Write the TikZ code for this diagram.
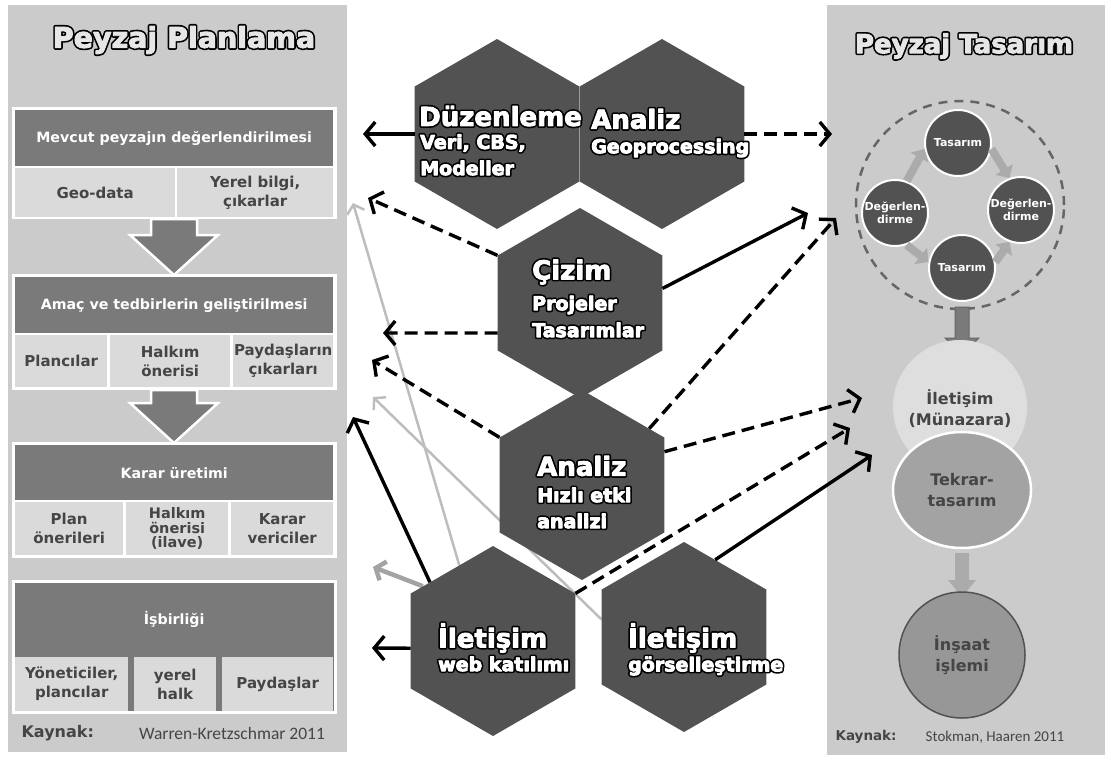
\documentclass[tikz,border=0pt]{standalone}
\usepackage{fontspec}
\setmainfont{DejaVu Sans}
\newfontfamily\calfont{Carlito}
\usetikzlibrary{shapes.geometric, arrows.meta, calc, backgrounds}

\definecolor{panelgray}{HTML}{CBCBCB}
\definecolor{headgray}{HTML}{7A7A7A}
\definecolor{cellgray}{HTML}{DADADA}
\definecolor{hexgray}{HTML}{525252}
\definecolor{textgray}{HTML}{454545}
\definecolor{lightline}{HTML}{BDBDBD}
\definecolor{midline}{HTML}{A3A3A3}
\definecolor{titlefill}{HTML}{E6E6E6}
\definecolor{ringgray}{HTML}{666666}
\definecolor{cycgray}{HTML}{ABABAB}
\definecolor{buildgray}{HTML}{979797}

\newcommand{\strokedtext}[1]{\special{pdf:literal direct 2 Tr 4.2 w 1 j 0 G 0 g}#1\special{pdf:literal direct 0 Tr}}
\newcommand{\heavytext}[1]{\special{pdf:literal direct 2 Tr 0.9 w 1 j}#1\special{pdf:literal direct 0 Tr}}
\newcommand{\halotext}[4][]{%
  \node[halo, #1, text=black] at (#3) {\strokedtext{#4}};
  \node[halo, #1] (#2) at (#3) {\heavytext{#4}};
}

\begin{document}
\begin{tikzpicture}
  [x=1pt, y=-1pt,
  halo/.style={inner sep=0pt, anchor=west},
  big/.style={font=\fontsize{26}{28}\selectfont\bfseries, text=white},
  small/.style={font=\fontsize{19}{21}\selectfont\bfseries, text=white},
  title/.style={font=\fontsize{28.5}{30}\selectfont\bfseries, text=titlefill, anchor=center},
  hexa/.style={regular polygon, regular polygon sides=6, shape border rotate=30,
  minimum size=190pt, inner sep=0pt, fill=hexgray},
  headbox/.style={anchor=north west, fill=headgray, minimum width=318pt, inner sep=0pt,
  text=white, font=\fontsize{14.2}{17}\selectfont\bfseries},
  cellbox/.style={anchor=north west, fill=cellgray, minimum height=49pt, inner sep=0pt,
  text=textgray, align=center, font=\fontsize{15}{19}\selectfont\bfseries},
  blockarrow/.style={fill=headgray, draw=white, line width=2.5pt},
  cyclenode/.style={circle, fill=hexgray, draw=white, line width=2pt, minimum size=66pt,
  inner sep=0pt, text=white, align=center, font=\fontsize{11}{13.5}\selectfont\bfseries},
  cyc/.style={draw=cycgray, line width=8pt, -{Triangle[length=10pt,width=20pt]}},
  roundbox/.style={inner sep=0pt, text=textgray, align=center,
  font=\fontsize{16}{21}\selectfont\bfseries},
  solidar/.style={draw=black, line width=3.4pt, -{Straight Barb[length=10pt,width=24pt]}},
  dasharr/.style={solidar, dash pattern=on 13pt off 7pt},
  greyar/.style={draw=lightline, line width=2.5pt, -{Straight Barb[length=8pt,width=18pt]}},
  midar/.style={draw=midline, line width=4.5pt, -{Straight Barb[length=8pt,width=20pt]}}]

  \useasboundingbox (0,0) rectangle (1110,760);

  % Peyzaj Planlama
  \fill[panelgray] (8,5) rectangle (347,752);
  \halotext[title]{plantitle}{184,40}{Peyzaj Planlama}

  \fill[white] (12,107) rectangle (337,219);
  \node[headbox, minimum height=56pt] (mevcut) at (15,110) {Mevcut peyzajın değerlendirilmesi};
  \node[cellbox, minimum width=160pt] (geo) at (15,168) {Geo-data};
  \node[cellbox, minimum width=156pt] (yerel) at (177,168) {Yerel bilgi,\\çıkarlar};
  \path[blockarrow] (151,219) -- (197,219) -- (197,235) -- (218,235) -- (174,275)
    -- (130,235) -- (151,235) -- cycle;

  \fill[white] (12,274) rectangle (337,390);
  \node[headbox, minimum height=56pt] (amac) at (15,277) {Amaç ve tedbirlerin geliştirilmesi};
  \node[cellbox, minimum width=92pt, minimum height=52pt] (plancilar) at (15,335) {Plancılar};
  \node[cellbox, minimum width=120pt, minimum height=52pt] (halkim) at (110,335) {Halkım\\önerisi};
  \node[cellbox, minimum width=100pt, minimum height=52pt] (paydas) at (233,335) {Paydaşların\\çıkarları};
  \path[blockarrow] (151,390) -- (197,390) -- (197,403) -- (218,403) -- (174,443)
    -- (130,403) -- (151,403) -- cycle;

  \fill[white] (12,442) rectangle (337,558);
  \node[headbox, minimum height=55pt] (karar) at (15,445) {Karar üretimi};
  \node[cellbox, minimum width=108pt, minimum height=53pt] (plan) at (15,502) {Plan\\önerileri};
  \node[cellbox, minimum width=102pt, minimum height=53pt,
    font=\fontsize{14.5}{14.5}\selectfont\bfseries] (ilave) at (126,502) {Halkım\\önerisi\\(ilave)};
  \node[cellbox, minimum width=102pt, minimum height=53pt] (verici) at (231,502) {Karar\\vericiler};

  \filldraw[fill=headgray, draw=white, line width=3pt] (13.5,581.5) rectangle (335.5,712.5);
  \node[headbox, minimum height=72pt] (isbirligi) at (15,583) {İşbirliği};
  \node[cellbox, minimum width=113pt, minimum height=54pt] (yonetici) at (15,657) {Yöneticiler,\\plancılar};
  \node[cellbox, minimum width=82pt, minimum height=54pt] (halk) at (134,657) {yerel\\halk};
  \node[cellbox, minimum width=111pt, minimum height=54pt] (paydaslar) at (222,657) {Paydaşlar};

  \node[anchor=west, text=textgray, font=\fontsize{16}{18}\selectfont\bfseries] (kaynak1) at (18,733) {Kaynak:};
  \node[text=textgray, font=\calfont\fontsize{17.5}{20}\selectfont] (ref1) at (232,733) {Warren-Kretzschmar 2011};

  % Peyzaj Tasarim
  \fill[panelgray] (827,5) rectangle (1105,755);
  \halotext[title, font=\fontsize{26}{28}\selectfont\bfseries]{tasarimtitle}{964,46}{Peyzaj Tasarım}

  \node[circle, draw=ringgray, line width=2.5pt, dash pattern=on 9pt off 7pt,
    minimum size=208pt, inner sep=0pt] (ring) at (960,205) {};
  \node[cyclenode] (tp) at (958,143) {Tasarım};
  \node[cyclenode] (rt) at (1021,210) {Değerlen-\\dirme};
  \node[cyclenode] (lf) at (895,213) {Değerlen-\\dirme};
  \node[cyclenode] (bt) at (962,268) {Tasarım};
  \draw[cyc] (lf.70) -- (tp.190);
  \draw[cyc] (tp.-10) -- (rt.110);
  \draw[cyc] (lf.-70) -- (bt.170);
  \draw[cyc] (bt.10) -- (rt.-110);

  \filldraw[fill=headgray, draw=ringgray, line width=1pt] (955,307) -- (969,307) -- (969,338)
    -- (979,338) -- (962,355) -- (945,338) -- (955,338) -- cycle;
  \node[circle, fill=titlefill!70!panelgray, minimum size=134pt, inner sep=0pt] (iletisim) at (960,407) {};
  \node[roundbox] at (960,409) {İletişim\\(Münazara)};
  \node[ellipse, fill=midline, draw=white, line width=2.5pt, minimum width=138pt,
    minimum height=116pt, roundbox] (tekrar) at (962,490) {Tekrar-\\tasarım};
  \fill[cycgray] (955,553) -- (969,553) -- (969,580) -- (976,580) -- (962,597) -- (948,580)
    -- (955,580) -- cycle;
  \node[circle, fill=buildgray, draw=hexgray, line width=1.5pt, minimum size=126pt,
    roundbox] (insaat) at (962,655) {İnşaat\\işlemi};

  \node[anchor=west, text=textgray, font=\fontsize{13.5}{16}\selectfont\bfseries] (kaynak2) at (832,737) {Kaynak:};
  \node[text=textgray, font=\calfont\fontsize{15}{18}\selectfont] (ref2) at (995,737) {Stokman, Haaren 2011};

  % hexagons
  \node[hexa] (duz) at (497,134) {};
  \node[hexa] (an1) at (662,134) {};
  \node[hexa] (cz) at (580,303) {};
  \node[hexa] (an2) at (582,485) {};
  \node[hexa] (web) at (493,641) {};
  \node[hexa] (gs) at (684,637) {};

  \halotext[big]{duzt}{419,116}{Düzenleme}
  \halotext[small]{duz1}{420,143}{Veri, CBS,}
  \halotext[small]{duz2}{420,168}{Modeller}
  \halotext[big]{an1t}{591,119}{Analiz}
  \halotext[small]{an11}{591,148}{Geoprocessing}
  \halotext[big]{czt}{532,272}{Çizim}
  \halotext[small]{cz1}{532,305}{Projeler}
  \halotext[small]{cz2}{532,330}{Tasarımlar}
  \halotext[big]{an2t}{537,466}{Analiz}
  \halotext[small]{an21}{537,495}{Hızlı etki}
  \halotext[small]{an22}{537,521}{analizi}
  \halotext[big]{webt}{438,638}{İletişim}
  \halotext[small]{web1}{438,664}{web katılımı}
  \halotext[big]{gst}{628,638}{İletişim}
  \halotext[small]{gs1}{628,666}{görselleştirme}

  % connectors
  \coordinate (p1) at (363,134);
  \coordinate (p2) at (832,134);
  \coordinate (p3) at (368,198);
  \coordinate (p4) at (808,213);
  \coordinate (p5) at (383,333);
  \coordinate (p6) at (372,360);
  \coordinate (p7) at (836,218);
  \coordinate (p8) at (862,398);
  \coordinate (p9) at (850,428);
  \coordinate (p10) at (872,455);
  \coordinate (p11) at (353,417);
  \coordinate (p12) at (372,648);
  \coordinate (g1) at (353,203);
  \coordinate (g2) at (373,397);
  \coordinate (g3) at (373,567);

  \draw[solidar] (duz.west) -- (p1);
  \draw[dasharr] (an1.east) -- (p2);
  \draw[dasharr] (cz.150) -- (p3);
  \draw[solidar] (cz.10) -- (p4);
  \draw[dasharr] (cz.200) -- (p5);
  \draw[dasharr] (an2.150) -- (p6);
  \draw[dasharr] (an2.40) -- (p7);
  \draw[dasharr] (an2.22) -- (p8);
  \draw[dasharr] (web.30) -- (p9);
  \draw[solidar] (gs.68) -- (p10);
  \draw[solidar] (web.137) -- (p11);
  \draw[solidar] (web.185) -- (p12);
  \begin{scope}[on background layer]
    \draw[greyar] (web.114) -- (g1);
    \draw[greyar] (gs.168) -- (g2);
    \draw[midar] (web.142) -- (g3);
  \end{scope}
\end{tikzpicture}
\end{document}
